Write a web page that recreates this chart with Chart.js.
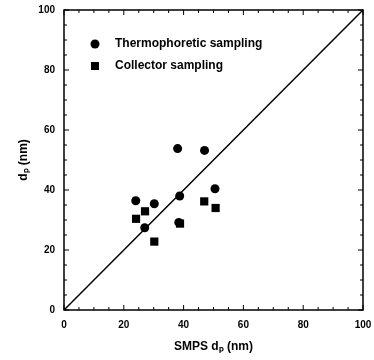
<!DOCTYPE html>
<html><head><meta charset="utf-8">
<script src="https://cdn.jsdelivr.net/npm/chart.js@4/dist/chart.umd.min.js"></script>
<style>html,body{margin:0;padding:0;background:#fff}#wrap{width:374px;height:360px}</style>
</head><body><div id="wrap"><canvas id="c" width="374" height="360"></canvas></div>
<script>
const thermoX = [24.0, 27.0, 30.2, 38.0, 38.7, 38.4, 47.0, 50.5];
const thermoY = [36.4, 27.4, 35.4, 53.8, 38.0, 29.2, 53.2, 40.4];
const collX = [24.1, 27.1, 30.2, 38.8, 46.9, 50.7];
const collY = [30.4, 32.9, 22.8, 28.8, 36.2, 34.0];
const lineX = [0, 100];
const lineY = [0, 100];
const tickValues = [0, 20, 40, 60, 80, 100];
const seriesLabels = ['Thermophoretic sampling', 'Collector sampling'];
const xTitle = 'SMPS dₚ (nm)';
const yTitle = 'dₚ (nm)';

const pts = (xs, ys) => xs.map((x, i) => ({x, y: ys[i]}));

const framePlugin = {
  id: 'frame',
  afterDatasetsDraw(chart) {
    const {ctx, chartArea: a, scales: {x, y}} = chart;
    ctx.save();
    ctx.strokeStyle = '#000';
    ctx.lineWidth = 1.5;
    ctx.strokeRect(a.left, a.top, a.right - a.left, a.bottom - a.top);
    ctx.lineWidth = 1;
    for (let v = 0; v <= 100; v += 5) {
      const len = v % 20 === 0 ? 5 : 3;
      const px = x.getPixelForValue(v), py = y.getPixelForValue(v);
      ctx.beginPath();
      ctx.moveTo(px, a.bottom); ctx.lineTo(px, a.bottom - len);
      ctx.moveTo(px, a.top); ctx.lineTo(px, a.top + len);
      ctx.moveTo(a.left, py); ctx.lineTo(a.left + len, py);
      ctx.moveTo(a.right, py); ctx.lineTo(a.right - len, py);
      ctx.stroke();
    }
    // legend
    ctx.fillStyle = '#000';
    ctx.font = 'bold 12px "Liberation Sans", Arial, sans-serif';
    ctx.textBaseline = 'middle';
    const lx = a.left + 31, tx = a.left + 51;
    const y1 = a.top + 34, y2 = a.top + 56;
    ctx.beginPath(); ctx.arc(lx, y1, 4.5, 0, Math.PI * 2); ctx.fill();
    ctx.fillRect(lx - 4, y2 - 4, 8, 8);
    ctx.fillText(seriesLabels[0], tx, y1);
    ctx.fillText(seriesLabels[1], tx, y2);
    ctx.restore();
  }
};

const tickFont = {family: '"Liberation Sans", Arial, sans-serif', size: 10, weight: 'bold'};
const titleFont = {family: '"Liberation Sans", Arial, sans-serif', size: 12, weight: 'bold'};
const zeroPad = s => { s.paddingLeft = 0; s.paddingRight = 0; s.paddingTop = 0; s.paddingBottom = 0; };

new Chart(document.getElementById('c'), {
  type: 'scatter',
  data: {
    datasets: [
      {label: 'y = x', type: 'line', data: pts(lineX, lineY), borderColor: '#000', borderWidth: 1.5, pointRadius: 0, fill: false},
      {label: seriesLabels[0], data: pts(thermoX, thermoY), pointStyle: 'circle', pointRadius: 4.5, backgroundColor: '#000', borderColor: '#000', borderWidth: 0},
      {label: seriesLabels[1], data: pts(collX, collY), pointStyle: 'rect', pointRadius: 5.8, backgroundColor: '#000', borderColor: '#000', borderWidth: 0}
    ]
  },
  options: {
    responsive: false,
    animation: false,
    layout: {padding: {left: 0, right: 11, top: 10, bottom: 0}},
    plugins: {legend: {display: false}, tooltip: {enabled: false}},
    scales: {
      x: {
        type: 'linear', min: 0, max: 100,
        afterBuildTicks: s => { s.ticks = tickValues.map(v => ({value: v})); },
        afterFit: s => { s.height = 50; zeroPad(s); },
        grid: {display: false, drawTicks: false},
        border: {display: false},
        ticks: {color: '#000', font: tickFont, padding: 9, maxRotation: 0},
        title: {display: true, text: xTitle, color: '#000', font: titleFont, padding: {top: 0, bottom: 6}}
      },
      y: {
        type: 'linear', min: 0, max: 100,
        afterBuildTicks: s => { s.ticks = tickValues.map(v => ({value: v})); },
        afterFit: s => { s.width = 64; zeroPad(s); },
        grid: {display: false, drawTicks: false},
        border: {display: false},
        ticks: {color: '#000', font: tickFont, padding: 9},
        title: {display: true, text: yTitle, color: '#000', font: titleFont, padding: {top: 16, bottom: 0}}
      }
    }
  },
  plugins: [framePlugin]
});
</script>
</body></html>
